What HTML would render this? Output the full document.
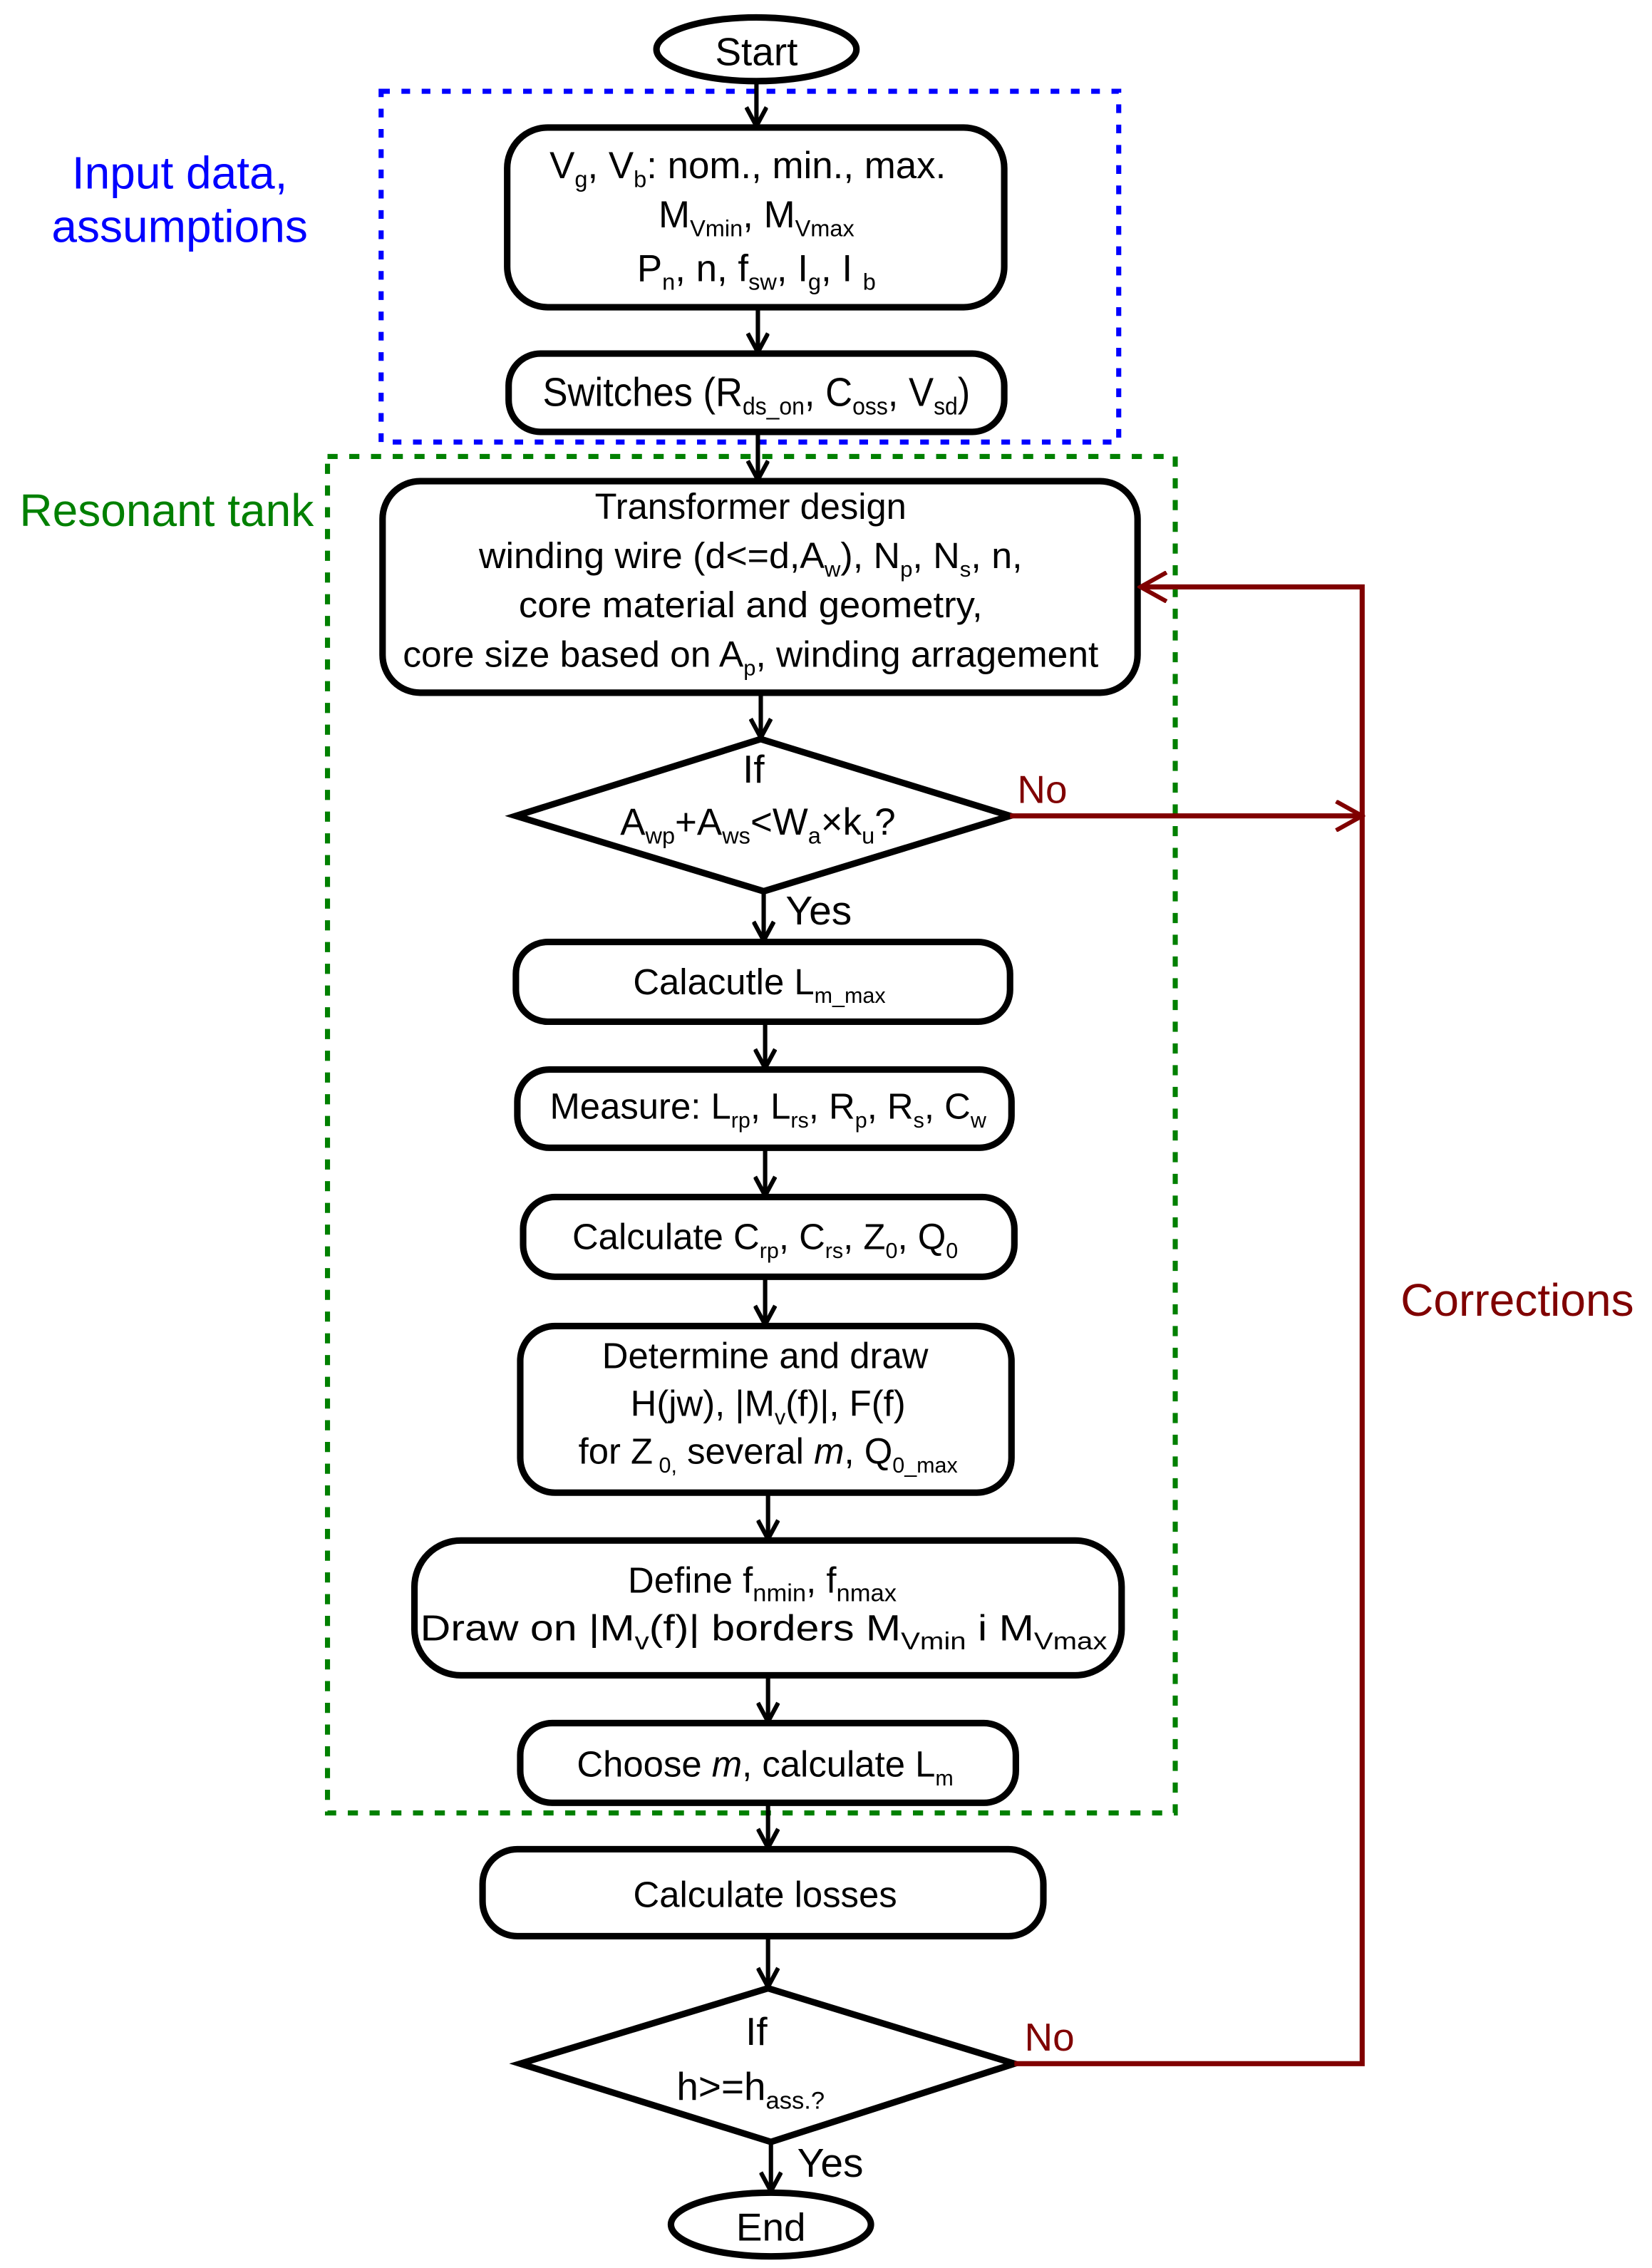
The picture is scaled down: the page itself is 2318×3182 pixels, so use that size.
<!DOCTYPE html>
<html><head><meta charset="utf-8"><style>html,body{margin:0;padding:0;background:#fff}svg{display:block}</style></head>
<body>
<svg width="2318" height="3182" viewBox="0 0 1140 1565" preserveAspectRatio="none" xmlns="http://www.w3.org/2000/svg" font-family="Liberation Sans, DejaVu Sans, sans-serif">
<defs>
<marker id="a" markerWidth="16" markerHeight="16" refX="14" refY="8" orient="auto" markerUnits="userSpaceOnUse"><path d="M1,1 L14,8 L1,15" fill="none" stroke="#000" stroke-width="3"/></marker>
<marker id="r" markerWidth="22" markerHeight="22" refX="20" refY="11" orient="auto" markerUnits="userSpaceOnUse"><path d="M2,1 L20,11 L2,21" fill="none" stroke="#800000" stroke-width="3"/></marker>
</defs>
<g fill="none">
<rect x="263" y="63" width="509" height="242" stroke="#0000ff" stroke-width="3.5" stroke-dasharray="6 8"/>
<rect x="226" y="315" width="585" height="936" stroke="#008000" stroke-width="3.5" stroke-dasharray="7 8"/>
</g>
<g fill="none" stroke="#000" stroke-width="3" marker-end="url(#a)">
<line x1="522" y1="56" x2="522" y2="87"/>
<line x1="523" y1="212" x2="523" y2="243"/>
<line x1="523" y1="298" x2="523" y2="331"/>
<line x1="525" y1="478" x2="525" y2="509"/>
<line x1="527" y1="615" x2="527" y2="649"/>
<line x1="528" y1="705" x2="528" y2="737"/>
<line x1="528" y1="792" x2="528" y2="825"/>
<line x1="528" y1="881" x2="528" y2="914"/>
<line x1="530" y1="1030" x2="530" y2="1062"/>
<line x1="530" y1="1156" x2="530" y2="1188"/>
<line x1="530" y1="1244" x2="530" y2="1275"/>
<line x1="530" y1="1336" x2="530" y2="1371"/>
<line x1="532" y1="1478" x2="532" y2="1512"/>
</g>
<g fill="none" stroke="#000" stroke-width="4.5">
<ellipse cx="522" cy="34" rx="69" ry="22"/>
<ellipse cx="532" cy="1535" rx="69" ry="22"/>
<rect x="350" y="88" width="343" height="124" rx="28"/>
<rect x="351" y="244" width="342" height="54" rx="22"/>
<rect x="264" y="332" width="521" height="146" rx="26"/>
<polygon points="356,563 525,510 697,563 527,615"/>
<rect x="356" y="650" width="341" height="55" rx="22"/>
<rect x="357" y="738" width="341" height="54" rx="22"/>
<rect x="361" y="826" width="339" height="55" rx="22"/>
<rect x="359" y="915" width="339" height="115" rx="24"/>
<rect x="286" y="1063" width="488" height="93" rx="32"/>
<rect x="359" y="1189" width="342" height="55" rx="22"/>
<rect x="333" y="1276" width="387" height="60" rx="24"/>
<polygon points="359,1424 530,1372 700,1424 532,1478"/>
</g>
<g fill="none" stroke="#800000" stroke-width="3.5">
<line x1="697" y1="563" x2="940" y2="563" marker-end="url(#r)"/>
<polyline points="700,1424 940,1424 940,405 787,405" marker-end="url(#r)"/>
</g>
<g font-size="27" text-anchor="middle" fill="#000">
<text x="522" y="45">Start</text>
<text x="532" y="1546">End</text>
<text x="516" y="123" font-size="26">V<tspan font-size="16" dy="6">g</tspan><tspan dy="-6">, V</tspan><tspan font-size="16" dy="6">b</tspan><tspan dy="-6">: nom., min., max.</tspan></text>
<text x="522" y="157" font-size="26">M<tspan font-size="16" dy="6">Vmin</tspan><tspan dy="-6">, M</tspan><tspan font-size="16" dy="6">Vmax</tspan></text>
<text x="522" y="194" font-size="26">P<tspan font-size="16" dy="6">n</tspan><tspan dy="-6">, n, f</tspan><tspan font-size="16" dy="6">sw</tspan><tspan dy="-6">, I</tspan><tspan font-size="16" dy="6">g</tspan><tspan dy="-6">, I </tspan><tspan font-size="16" dy="6">b</tspan></text>
<text x="522" y="280" font-size="28" textLength="295" lengthAdjust="spacingAndGlyphs">Switches (R<tspan font-size="17" dy="6">ds_on</tspan><tspan dy="-6">, C</tspan><tspan font-size="17" dy="6">oss</tspan><tspan dy="-6">, V</tspan><tspan font-size="17" dy="6">sd</tspan><tspan dy="-6">)</tspan></text>
<g font-size="25">
<text x="518" y="358" textLength="215" lengthAdjust="spacingAndGlyphs">Transformer design</text>
<text x="518" y="392" textLength="375" lengthAdjust="spacingAndGlyphs">winding wire (d&lt;=d,A<tspan font-size="15" dy="6">w</tspan><tspan dy="-6">), N</tspan><tspan font-size="15" dy="6">p</tspan><tspan dy="-6">, N</tspan><tspan font-size="15" dy="6">s</tspan><tspan dy="-6">, n,</tspan></text>
<text x="518" y="426" textLength="320" lengthAdjust="spacingAndGlyphs">core material and geometry,</text>
<text x="518" y="460" textLength="480" lengthAdjust="spacingAndGlyphs">core size based on A<tspan font-size="15" dy="6">p</tspan><tspan dy="-6">, winding arragement</tspan></text>
</g>
<text x="520" y="540">If</text>
<text x="523" y="576" font-size="26">A<tspan font-size="16" dy="6">wp</tspan><tspan dy="-6">+A</tspan><tspan font-size="16" dy="6">ws</tspan><tspan dy="-6">&lt;W</tspan><tspan font-size="16" dy="6">a</tspan><tspan dy="-6">×k</tspan><tspan font-size="16" dy="6">u</tspan><tspan dy="-6">?</tspan></text>
<text x="565" y="638" font-size="28">Yes</text>
<text x="524" y="686" font-size="25">Calacutle L<tspan font-size="15" dy="6">m_max</tspan></text>
<text x="530" y="772" font-size="25">Measure: L<tspan font-size="15" dy="6">rp</tspan><tspan dy="-6">, L</tspan><tspan font-size="15" dy="6">rs</tspan><tspan dy="-6">, R</tspan><tspan font-size="15" dy="6">p</tspan><tspan dy="-6">, R</tspan><tspan font-size="15" dy="6">s</tspan><tspan dy="-6">, C</tspan><tspan font-size="15" dy="6">w</tspan></text>
<text x="528" y="862" font-size="25">Calculate C<tspan font-size="15" dy="6">rp</tspan><tspan dy="-6">, C</tspan><tspan font-size="15" dy="6">rs</tspan><tspan dy="-6">, Z</tspan><tspan font-size="15" dy="6">0</tspan><tspan dy="-6">, Q</tspan><tspan font-size="15" dy="6">0</tspan></text>
<text x="528" y="944" font-size="25">Determine and draw</text>
<text x="530" y="977" font-size="25">H(jw), |M<tspan font-size="15" dy="6">v</tspan><tspan dy="-6">(f)|, F(f)</tspan></text>
<text x="530" y="1010" font-size="25">for Z<tspan font-size="15" dy="6"> 0,</tspan><tspan dy="-6"> several  </tspan><tspan font-style="italic">m</tspan>, Q<tspan font-size="15" dy="6">0_max</tspan></text>
<text x="526" y="1099" font-size="25">Define f<tspan font-size="17" dy="6">nmin</tspan><tspan dy="-6">, f</tspan><tspan font-size="17" dy="6">nmax</tspan></text>
<text x="527" y="1132" font-size="25" textLength="474" lengthAdjust="spacingAndGlyphs">Draw on |M<tspan font-size="17" dy="6">v</tspan><tspan dy="-6">(f)| borders M</tspan><tspan font-size="17" dy="6">Vmin</tspan><tspan dy="-6"> i M</tspan><tspan font-size="17" dy="6">Vmax</tspan></text>
<text x="528" y="1226" font-size="25">Choose <tspan font-style="italic">m</tspan>, calculate L<tspan font-size="15" dy="6">m</tspan></text>
<text x="528" y="1316" font-size="25">Calculate losses</text>
<text x="522" y="1411">If</text>
<text x="518" y="1449" font-size="27">h&gt;=h<tspan font-size="17" dy="6">ass.?</tspan></text>
<text x="573" y="1502" font-size="28">Yes</text>
</g>
<g font-size="31.5">
<text x="124" y="130" text-anchor="middle" fill="#0000ff">Input data,</text>
<text x="124" y="167" text-anchor="middle" fill="#0000ff">assumptions</text>
<text x="115" y="363" text-anchor="middle" fill="#008000">Resonant tank</text>
<text x="1047" y="908" text-anchor="middle" fill="#800000">Corrections</text>
<text x="702" y="554" fill="#800000" font-size="27">No</text>
<text x="707" y="1415" fill="#800000" font-size="27">No</text>
</g>
</svg>
</body></html>
